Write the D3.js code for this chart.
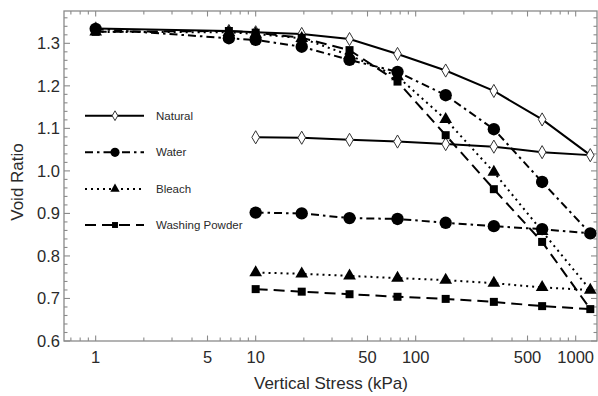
<!DOCTYPE html>
<html>
<head>
<meta charset="utf-8">
<script src="https://cdn.jsdelivr.net/npm/d3@7"></script>
<style>
  html, body { margin: 0; padding: 0; background: #fff; }
  svg { display: block; font-family: "Liberation Sans", Arial, sans-serif; }
</style>
</head>
<body>
<svg id="chart" width="598" height="396"></svg>
<script>
// ---- data ----
const stressLoad = [1, 6.8, 10, 19.4, 38.6, 77, 154, 308, 617, 1234];
const stressUnload = [617, 308, 154, 77, 38.6, 19.4, 10];

const naturalLoad = [1.335, 1.329, 1.326, 1.322, 1.310, 1.275, 1.236, 1.188, 1.121, 1.037];
const naturalUnload = [1.044, 1.057, 1.063, 1.069, 1.073, 1.078, 1.079];
const waterLoad = [1.334, 1.312, 1.308, 1.292, 1.261, 1.233, 1.178, 1.098, 0.974, 0.853];
const waterUnload = [0.863, 0.870, 0.878, 0.887, 0.889, 0.900, 0.902];
const bleachLoad = [1.327, 1.326, 1.322, 1.312, 1.272, 1.222, 1.121, 0.997, 0.858, 0.720];
const bleachUnload = [0.726, 0.736, 0.743, 0.748, 0.753, 0.758, 0.761];
const washLoad = [1.327, 1.329, 1.325, 1.313, 1.284, 1.210, 1.084, 0.957, 0.833, 0.675];
const washUnload = [0.682, 0.692, 0.699, 0.704, 0.710, 0.716, 0.722];

const seriesNames = ["Natural", "Water", "Bleach", "Washing Powder"];
const xTickLabels = [1, 5, 10, 50, 100, 500, 1000];
const yTickLabels = [0.6, 0.7, 0.8, 0.9, 1.0, 1.1, 1.2, 1.3];

// ---- layout ----
const svg = d3.select("#chart");
const L = 64, R = 597, T = 11, B = 341;
const x = d3.scaleLog().domain([0.634, 1359]).range([L, R]);
const y = d3.scaleLinear().domain([0.6, 1.376]).range([B, T]);

const axisColor = "#8a8a8a";
const textColor = "#2a2a2a";

// minor ticks
const xMinor = [];
for (let e = -1; e <= 3; e++) for (let m = 1; m <= 9; m++) {
  const v = m * Math.pow(10, e);
  if (v >= 0.634 && v <= 1359 && !xTickLabels.includes(+v.toPrecision(6))) xMinor.push(v);
}
const yMinor = d3.range(0, 40).map(i => +(0.6 + i * 0.02).toFixed(2)).filter(v => v <= 1.376 && Math.round(v * 100) % 10 !== 0);

const g = svg.append("g");
// frame
g.append("rect").attr("x", L).attr("y", T).attr("width", R - L).attr("height", B - T)
  .attr("fill", "none").attr("stroke", axisColor).attr("stroke-width", 1.3);

// x ticks (bottom & top, inward)
function xTicks(vals, len) {
  vals.forEach(v => {
    const px = x(v);
    g.append("line").attr("x1", px).attr("x2", px).attr("y1", B).attr("y2", B - len).attr("stroke", axisColor).attr("stroke-width", 1.1);
    g.append("line").attr("x1", px).attr("x2", px).attr("y1", T).attr("y2", T + len).attr("stroke", axisColor).attr("stroke-width", 1.1);
  });
}
xTicks(xTickLabels, 5.5);
xTicks(xMinor, 3.5);
function yTicks(vals, len) {
  vals.forEach(v => {
    const py = y(v);
    g.append("line").attr("x1", L).attr("x2", L + len).attr("y1", py).attr("y2", py).attr("stroke", axisColor).attr("stroke-width", 1.1);
    g.append("line").attr("x1", R).attr("x2", R - len).attr("y1", py).attr("y2", py).attr("stroke", axisColor).attr("stroke-width", 1.1);
  });
}
yTicks(yTickLabels, 6);
yTicks(yMinor, 3.5);

// tick labels
g.selectAll(".xl").data(xTickLabels).enter().append("text")
  .attr("x", d => x(d)).attr("y", 363).attr("text-anchor", "middle")
  .attr("font-size", 16.5).attr("fill", textColor).text(d => d);
g.selectAll(".yl").data(yTickLabels).enter().append("text")
  .attr("x", 60).attr("y", d => y(d) + 6).attr("text-anchor", "end")
  .attr("font-size", 16.5).attr("fill", textColor).text(d => d.toFixed(1));

// axis titles
svg.append("text").attr("x", 331).attr("y", 389).attr("text-anchor", "middle")
  .attr("font-size", 17).attr("fill", textColor).text("Vertical Stress (kPa)");
svg.append("text").attr("transform", "translate(23,182) rotate(-90)").attr("text-anchor", "middle")
  .attr("font-size", 17).attr("fill", textColor).text("Void Ratio");

// ---- series ----
const series = [
  { name: seriesNames[0], load: naturalLoad, unload: naturalUnload, dash: null, marker: "diamond" },
  { name: seriesNames[1], load: waterLoad, unload: waterUnload, dash: "8,4,2.5,4", marker: "circle" },
  { name: seriesNames[2], load: bleachLoad, unload: bleachUnload, dash: "2,4", marker: "triangle" },
  { name: seriesNames[3], load: washLoad, unload: washUnload, dash: "11,6", marker: "square" }
];
series.forEach(s => {
  s.points = stressLoad.map((sx, i) => [sx, s.load[i]])
    .concat(stressUnload.map((sx, i) => [sx, s.unload[i]]));
});

const line = d3.line().x(d => x(d[0])).y(d => y(d[1]));
const lines = svg.append("g");
series.forEach(s => {
  lines.append("path").attr("d", line(s.points)).attr("fill", "none")
    .attr("stroke", "#000").attr("stroke-width", 2)
    .attr("stroke-dasharray", s.dash);
});

const symbolFor = {
  diamond: { type: d3.symbolDiamond, size: 50, fill: "#fff", stroke: "#333", sw: 1 },
  circle: { type: d3.symbolCircle, size: 120, fill: "#000", stroke: "none", sw: 0 },
  triangle: { type: d3.symbolTriangle, size: 70, fill: "#000", stroke: "none", sw: 0 },
  square: { type: d3.symbolSquare, size: 64, fill: "#000", stroke: "none", sw: 0 }
};
const drawOrder = [0, 3, 2, 1];
const marks = svg.append("g");
drawOrder.forEach(i => {
  const s = series[i];
  const sy = symbolFor[s.marker];
  marks.selectAll(null).data(s.points).enter().append("path")
    .attr("transform", d => `translate(${x(d[0])},${y(d[1])})`)
    .attr("d", d3.symbol().type(sy.type).size(sy.size))
    .attr("fill", sy.fill).attr("stroke", sy.stroke).attr("stroke-width", sy.sw);
});

// ---- legend ----
const legY = [115.7, 152.3, 189, 225];
const leg = svg.append("g");
series.forEach((s, i) => {
  const ly = legY[i];
  leg.append("line").attr("x1", 85).attr("x2", 144).attr("y1", ly).attr("y2", ly)
    .attr("stroke", "#000").attr("stroke-width", 2).attr("stroke-dasharray", s.dash);
  const sy = symbolFor[s.marker];
  leg.append("path").attr("transform", `translate(115,${ly})`)
    .attr("d", d3.symbol().type(sy.type).size(sy.size * 0.55))
    .attr("fill", sy.fill).attr("stroke", sy.stroke).attr("stroke-width", sy.sw);
  leg.append("text").attr("x", 156).attr("y", ly + 4).attr("font-size", 11.5)
    .attr("fill", textColor).text(s.name);
});
</script>
</body>
</html>
